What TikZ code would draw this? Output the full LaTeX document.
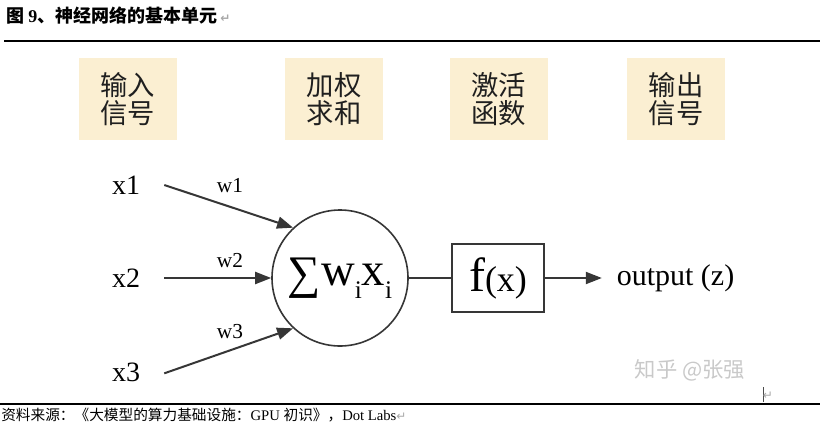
\documentclass[tikz,border=0pt]{standalone}
\usepackage{fontspec}
\setmainfont{Liberation Serif}
\newfontfamily\cjk{Noto Sans CJK SC}
\newfontfamily\djv{DejaVu Sans}
\usetikzlibrary{arrows.meta}
\definecolor{boxfill}{HTML}{FBEFD2}
\definecolor{ink}{HTML}{363636}
\definecolor{mark}{HTML}{A8A8A8}
\definecolor{wmark}{HTML}{C9C9C9}
\newcommand{\retmark}{{\djv\color{mark}\fontsize{9}{9}\selectfont ↵}}
\begin{document}
\begin{tikzpicture}[x=0.75pt,y=-0.75pt,
  labelbox/.style={fill=boxfill,minimum width=73.5pt,minimum height=61.5pt,inner sep=0pt,
    align=center,font=\cjk\fontsize{20.5}{21.5}\selectfont,text=black!88},
  invar/.style={font=\fontsize{21}{21}\selectfont,inner sep=1pt},
  wlab/.style={font=\fontsize{16}{16}\selectfont,inner sep=0pt},
  arr/.style={draw=ink,line width=1.5pt,-{Triangle[length=12pt,width=9pt]}},
  plain/.style={draw=ink,line width=1.5pt}]
\useasboundingbox (0,0) rectangle (820,425);
% title and rules
\node[anchor=west,inner sep=0pt] (title) at (6,16)
  {\cjk\bfseries\fontsize{13.5}{13.5}\selectfont 图 {\rmfamily\bfseries 9}、神经网络的基本单元\,\retmark};
\draw[line width=0.8pt] (4,41) coordinate (rt1) -- (820,41) coordinate (rt2);
\draw[line width=0.8pt] (0,404) coordinate (rb1) -- (820,404) coordinate (rb2);
\node[anchor=west,inner sep=0pt] (src) at (1,415)
  {\fontsize{11}{11}\selectfont{\cjk 资料来源：《大模型的算力基础设施：}GPU {\cjk 初识》，}Dot Labs\retmark};
\draw[line width=0.6pt,black!70] (763,387) coordinate (c1) -- (763,402) coordinate (c2);
\node[inner sep=0pt] (endmark) at (768,396) {\retmark};
% header boxes
\node[labelbox] (b1) at (127.5,99) {输入\\信号};
\node[labelbox] (b2) at (334,99) {加权\\求和};
\node[labelbox] (b3) at (498.5,99) {激活\\函数};
\node[labelbox] (b4) at (676,99) {输出\\信号};
% inputs
\node[invar] (x1) at (126,185) {x1};
\node[invar] (x2) at (126,278) {x2};
\node[invar] (x3) at (126,372) {x3};
% summation neuron
\node[circle,draw=ink,line width=1.2pt,minimum size=102pt,inner sep=0pt] (sum) at (340,278)
  {\fontsize{35}{35}\selectfont\raisebox{-0.06em}{∑}w\raisebox{-0.28em}{\fontsize{19}{19}\selectfont i}x\raisebox{-0.28em}{\fontsize{19}{19}\selectfont i}};
\node[wlab] (w1) at (230,186) {w1};
\node[wlab] (w2) at (230,261) {w2};
\node[wlab] (w3) at (230,332) {w3};
\draw[arr] ([xshift=17pt]x1.east) -- (sum.133);
\draw[arr] ([xshift=17pt]x2.east) -- (sum.west);
\draw[arr] ([xshift=17pt,yshift=-1pt]x3.east) -- (sum.227);
% activation
\node[draw=ink,line width=1.5pt,minimum width=69pt,minimum height=51pt,inner sep=0pt] (fx) at (498,278)
  {{\fontsize{36}{36}\selectfont f}{\fontsize{27}{27}\selectfont (x)}};
\draw[plain] (sum.east) -- (sum.east -| fx.west);
\node[font=\fontsize{22.5}{22.5}\selectfont,inner sep=0pt] (out) at (675.5,278) {output (z)};
\draw[arr] (fx.east) -- ([xshift=-11pt]fx.east -| out.west);
% watermark
\node[font=\cjk\fontsize{16}{16}\selectfont,text=wmark,inner sep=0pt] (wm) at (690,370) {知乎 @张强};
\end{tikzpicture}
\end{document}
